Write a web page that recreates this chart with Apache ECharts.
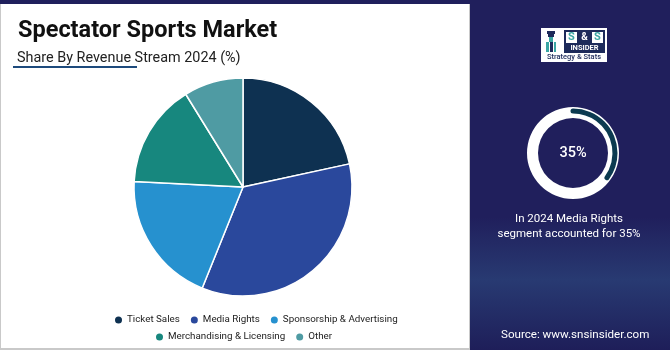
<!DOCTYPE html>
<html><head><meta charset="utf-8">
<script src="https://cdn.jsdelivr.net/npm/echarts@6/dist/echarts.min.js"></script>
<style>html,body{margin:0;padding:0;background:#fff}#c{width:670px;height:350px}</style>
</head><body><div id="c"></div>
<script>
const categories = ['Ticket Sales', 'Media Rights', 'Sponsorship & Advertising', 'Merchandising & Licensing', 'Other'];
const shares = [21.6, 34.5, 19.7, 15.4, 8.8];
const colors = ['#0e3151', '#2a489c', '#2691cf', '#17877e', '#4f9ba3'];
const highlightLabel = 'Media Rights';
const highlightValue = 35;
const titleText = 'Spectator Sports Market';
const subtitleText = 'Share By Revenue Stream 2024 (%)';
const noteLines = ['In 2024 Media Rights', 'segment accounted for 35%'];
const sourceText = 'Source: www.snsinsider.com';

const chart = echarts.init(document.getElementById('c'), null, {renderer: 'canvas'});
const FONT = 'Roboto';
const pieData = categories.map((n, i) => ({name: n, value: shares[i], itemStyle: {color: colors[i]}}));
const legendBase = {icon: 'circle', itemWidth: 7, itemHeight: 7, itemGap: 11, selectedMode: false,
  itemStyle: {borderWidth: 0},
  textStyle: {fontFamily: FONT, fontSize: 9.8, color: '#222222'}};

chart.setOption({
  animation: false,
  textStyle: {fontFamily: FONT},
  graphic: [
    {type: 'rect', z: -10, shape: {x: 0, y: 0, width: 670, height: 350},
     style: {fill: new echarts.graphic.LinearGradient(0, 0, 0, 1, [
       {offset: 0, color: '#201f5c'}, {offset: 0.62, color: '#201f5c'},
       {offset: 0.8, color: '#283a72'}, {offset: 1, color: '#1e1e59'}])}},
    {type: 'rect', z: -9, shape: {x: 0, y: 4, width: 470, height: 346}, style: {fill: '#c9c9c9'}},
    {type: 'rect', z: -8, shape: {x: 1, y: 4, width: 468, height: 344}, style: {fill: '#ffffff'}},
    {type: 'rect', z: 5, shape: {x: 13, y: 66, width: 124, height: 2}, style: {fill: '#1d4a7c'}},
    // logo
    {type: 'group', z: 10, children: [
      {type: 'rect', shape: {x: 541, y: 28, width: 66, height: 34}, style: {fill: '#ffffff'}},
      {type: 'rect', shape: {x: 547, y: 31, width: 8, height: 3}, style: {fill: '#1d2a5a'}},
      {type: 'rect', shape: {x: 548, y: 34, width: 6, height: 3}, style: {fill: '#1d2a5a'}},
      {type: 'rect', shape: {x: 549, y: 37, width: 4, height: 5}, style: {fill: '#3aa6a3'}},
      {type: 'rect', shape: {x: 546, y: 42, width: 3, height: 10}, style: {fill: '#3aa6a3'}},
      {type: 'rect', shape: {x: 550, y: 42, width: 3, height: 10}, style: {fill: '#1d2a5a'}},
      {type: 'rect', shape: {x: 554, y: 42, width: 2, height: 10}, style: {fill: '#3aa6a3'}},
      {type: 'rect', shape: {x: 564, y: 30, width: 41, height: 23}, style: {fill: '#1d2a5a'}},
      {type: 'rect', shape: {x: 566, y: 32, width: 11, height: 11}, style: {fill: '#ffffff'}},
      {type: 'rect', shape: {x: 592, y: 32, width: 11, height: 11}, style: {fill: '#ffffff'}},
      {type: 'text', style: {x: 571.5, y: 37.5, text: 'S', fill: '#3aa6a3', font: 'bold 11px ' + FONT, textAlign: 'center', textVerticalAlign: 'middle'}},
      {type: 'text', style: {x: 584.5, y: 37.5, text: '&', fill: '#ffffff', font: 'bold 10px ' + FONT, textAlign: 'center', textVerticalAlign: 'middle'}},
      {type: 'text', style: {x: 597.5, y: 37.5, text: 'S', fill: '#3aa6a3', font: 'bold 11px ' + FONT, textAlign: 'center', textVerticalAlign: 'middle'}},
      {type: 'text', style: {x: 584.5, y: 48.5, text: 'INSIDER', fill: '#ffffff', font: 'bold 7.5px ' + FONT, textAlign: 'center', textVerticalAlign: 'middle'}},
      {type: 'text', style: {x: 574, y: 57.5, text: 'Strategy & Stats', fill: '#1d2a5a', font: '500 7.5px ' + FONT, textAlign: 'center', textVerticalAlign: 'middle'}}
    ]},
    {type: 'text', z: 10, style: {x: 569, y: 219, text: noteLines[0], fill: '#ffffff', font: '11.5px ' + FONT, textAlign: 'center', textVerticalAlign: 'middle'}},
    {type: 'text', z: 10, style: {x: 569, y: 234, text: noteLines[1], fill: '#ffffff', font: '11.5px ' + FONT, textAlign: 'center', textVerticalAlign: 'middle'}},
    {type: 'text', z: 10, style: {x: 501, y: 335, text: sourceText, fill: '#ffffff', font: '11.6px ' + FONT, textAlign: 'left', textVerticalAlign: 'middle'}}
  ],
  title: [
    {text: titleText, left: 13, top: 14, textStyle: {fontFamily: FONT, fontSize: 23.5, fontWeight: 'bold', color: '#111111'}},
    {text: subtitleText, left: 12, top: 46, textStyle: {fontFamily: FONT, fontSize: 14.4, fontWeight: 'normal', color: '#222222'}}
  ],
  legend: [
    Object.assign({}, legendBase, {data: categories.slice(0, 3), left: 110, top: 310}),
    Object.assign({}, legendBase, {data: categories.slice(3), left: 151, top: 327})
  ],
  series: [
    {type: 'pie', center: [243, 187], radius: [0, 109], startAngle: 90, clockwise: true,
     label: {show: false}, labelLine: {show: false}, emphasis: {disabled: true},
     itemStyle: {borderColor: '#ffffff', borderWidth: 1.5},
     data: pieData},
    {type: 'gauge', center: [573, 153], radius: 46, startAngle: 90, endAngle: -270, min: 0, max: 100,
     axisLine: {lineStyle: {width: 11, color: [[1, '#ffffff']]}},
     axisTick: {show: false}, splitLine: {show: false}, axisLabel: {show: false}, pointer: {show: false},
     progress: {show: false}, title: {show: false},
     detail: {show: true, offsetCenter: [0, 0], formatter: '{value}%', color: '#ffffff', fontFamily: FONT, fontSize: 14.5, fontWeight: 500},
     data: [{value: highlightValue, name: highlightLabel}]},
    {type: 'gauge', center: [573, 153], radius: 44.5, startAngle: 90, endAngle: -270, min: 0, max: 100,
     axisLine: {lineStyle: {width: 5, color: [[1, 'rgba(0,0,0,0)']]}},
     progress: {show: true, width: 5, roundCap: true, itemStyle: {color: '#0c3a50'}},
     axisTick: {show: false}, splitLine: {show: false}, axisLabel: {show: false}, pointer: {show: false},
     title: {show: false}, detail: {show: false},
     data: [{value: highlightValue, name: highlightLabel}]}
  ]
});
</script>
</body></html>
